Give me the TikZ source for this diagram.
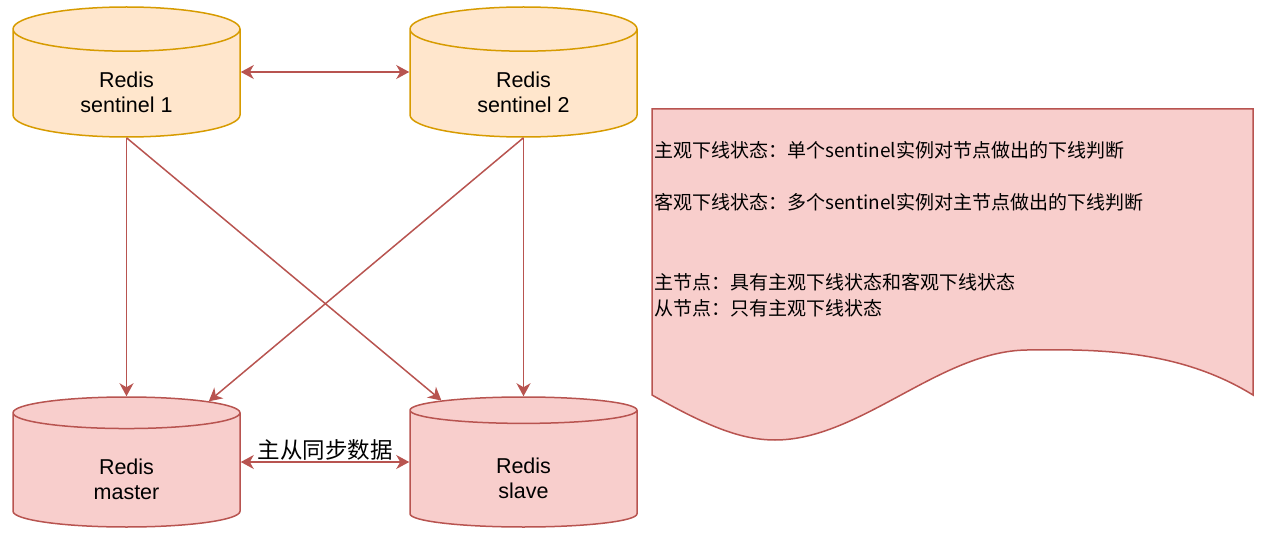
\documentclass[tikz,border=0pt]{standalone}
\usepackage{fontspec}
\setmainfont{Liberation Sans}
\newfontfamily\cjk{Noto Sans CJK SC}
\usetikzlibrary{shapes.geometric,arrows.meta}

\definecolor{sentfill}{HTML}{FFE6CC}
\definecolor{sentline}{HTML}{D79B00}
\definecolor{redisfill}{HTML}{F8CECC}
\definecolor{redisline}{HTML}{B85450}

\newcommand*\dbwidth{227pt}
\newcommand*\dbheight{130pt}
\tikzset{
    db/.style 2 args={
        cylinder,
        shape border rotate=90,
        aspect=0.48,
        draw=#2,
        fill=#1,
        line width=1.5pt,
        minimum width=\dbwidth,
        minimum height=\dbheight,
        inner sep=0pt,
        align=center,
        text height=59pt,
        text depth=0pt,
        font=\fontsize{21.5}{25}\selectfont,
        anchor=shape center
    },
    tip/.tip={Stealth[length=13pt,width=14pt,inset=4pt]},
    link/.style={draw=redisline, line width=1.5pt, -tip},
    twoway/.style={draw=redisline, line width=1.5pt, tip-tip}
}

\begin{document}
\begin{tikzpicture}[x=1pt,y=-1pt]

    \useasboundingbox (0,0) rectangle (1266,540);

    % The four redis instances.
    \node[db={sentfill}{sentline}] (sent1) at (126.5,72) {Redis\\sentinel 1};
    \node[db={sentfill}{sentline}] (sent2) at (523.5,72) {Redis\\sentinel 2};
    \node[db={redisfill}{redisline}] (master) at (126.5,462) {Redis\\master};
    \node[db={redisfill}{redisline}] (slave) at (523.5,462) {Redis\\slave};

    % Sentinels watch each other and both data nodes.
    \draw[twoway] (sent1.east |- sent1.shape center) -- (sent2.west |- sent2.shape center);
    \draw[link] (sent1.bottom) -- (master.top);
    \draw[link] (sent1.bottom) -- (slave);
    \draw[link] (sent2.bottom) -- (master);
    \draw[link] (sent2.bottom) -- (slave.top);

    % Replication.
    \draw[twoway] (master.east |- master.shape center) -- node[above=1pt, inner sep=0pt, font=\cjk\fontsize{22.5}{26}\selectfont] (sync) {主从同步数据} (slave.west |- slave.shape center);

    % Notes on the right.
    \draw[fill=redisfill, draw=redisline, line width=1.5pt]
        (652,109) -- (1253,109) -- (1253,395)
        .. controls (1180,350) and (1100,349) .. (1027,350)
        .. controls (940,351) and (860,440) .. (775,440)
        .. controls (740,440) and (705,425) .. (652,395) -- cycle;
    \node[anchor=north west, inner sep=0pt, align=left,
          font=\cjk\fontsize{19}{26}\selectfont] (notes) at (654,141)
        {主观下线状态：单个sentinel实例对节点做出的下线判断\\[26pt]
         客观下线状态：多个sentinel实例对主节点做出的下线判断\\[54pt]
         主节点：具有主观下线状态和客观下线状态\\
         从节点：只有主观下线状态};

\end{tikzpicture}
\end{document}
